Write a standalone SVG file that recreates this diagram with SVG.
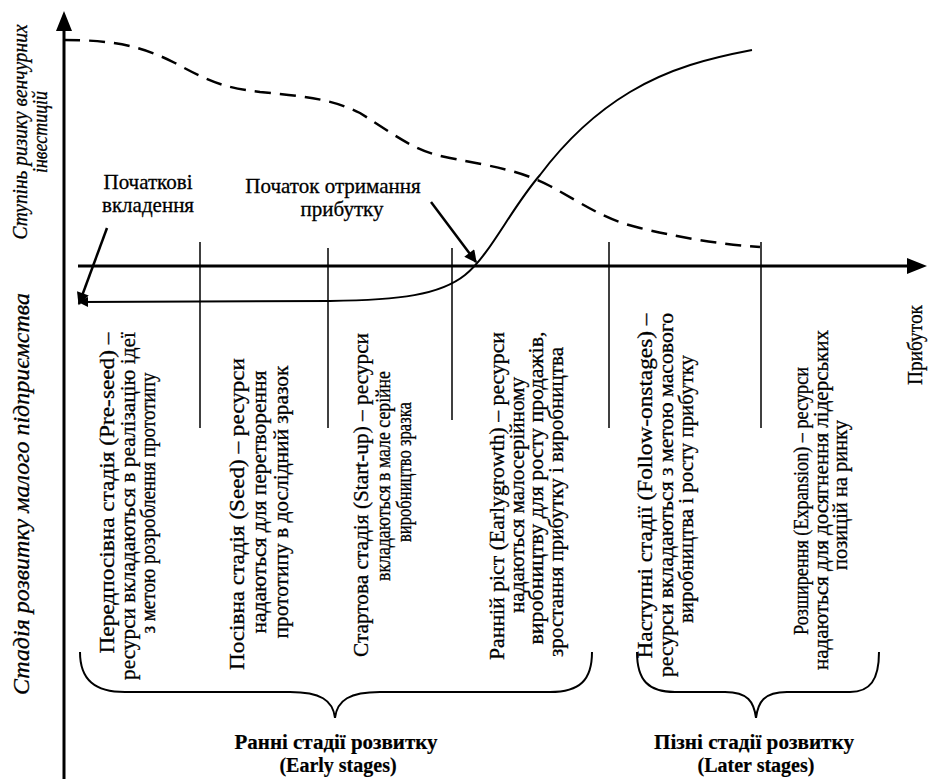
<svg xmlns="http://www.w3.org/2000/svg" width="928" height="779" viewBox="0 0 928 779">
<style>
  text { font-family: "Liberation Serif", "Times New Roman", serif; fill: #000; stroke: #000; stroke-width: 0.3; }
  .col { font-size: 22px; text-anchor: middle; }
  .small { font-size: 20.5px; }
  .axl { font-style: italic; font-size: 20px; text-anchor: middle; }
  .lbl { font-size: 21px; text-anchor: middle; }
  .grp { font-size: 20px; font-weight: bold; text-anchor: middle; stroke-width: 0.2; }
  .div { stroke: #000; stroke-width: 1.5; fill: none; }
  .brace { stroke: #000; stroke-width: 2; fill: none; }
</style>
<defs>
  <marker id="ah" viewBox="0 0 10 10" refX="9" refY="5" markerWidth="6" markerHeight="5" markerUnits="strokeWidth" orient="auto-start-reverse">
    <path d="M0,0 L10,5 L0,10 z" fill="#000"/>
  </marker>
</defs>

<g id="axes">
  <line x1="64" y1="779" x2="64" y2="28" stroke="#000" stroke-width="3"/>
  <path d="M64,11 L72,31 L56,31 z" fill="#000"/>
  <line x1="78" y1="266" x2="910" y2="266" stroke="#000" stroke-width="3"/>
  <path d="M927,266 L907,274 L907,258 z" fill="#000"/>
</g>

<g id="dividers">
  <line class="div" x1="200" y1="242" x2="200" y2="428"/>
  <line class="div" x1="328" y1="248" x2="328" y2="428"/>
  <line class="div" x1="452" y1="248" x2="452" y2="420"/>
  <line class="div" x1="609" y1="242" x2="609" y2="428"/>
  <line class="div" x1="761" y1="242" x2="761" y2="428"/>
</g>

<g id="connectors">
  <path id="risk-curve" d="M64,40 C110,40 140,45 175,63 C210,82 225,88 260,92 C300,96 330,98 360,113 C395,135 415,152 450,158 C490,166 520,170 550,186 C585,205 605,220 640,228 C690,240 730,245 760,247" fill="none" stroke="#000" stroke-width="2.5" stroke-dasharray="16 9"/>
  <path id="profit-curve" d="M752,50 C710,58 670,68 630,92 C600,110 570,135 540,175 C510,210 490,255 465,275 C440,295 400,300 330,301 L79,302" fill="none" stroke="#000" stroke-width="2" marker-end="url(#ah)"/>
  <line id="arrow-initial" x1="107" y1="228" x2="79" y2="304" stroke="#000" stroke-width="2.5" marker-end="url(#ah)"/>
  <line id="arrow-profit" x1="431" y1="202" x2="476" y2="262" stroke="#000" stroke-width="2.5" marker-end="url(#ah)"/>
</g>

<g id="axis-labels">
  <text class="axl" transform="translate(27,132) rotate(-90)" textLength="215" lengthAdjust="spacingAndGlyphs">Ступінь ризику венчурних</text>
  <text class="axl" transform="translate(47,132) rotate(-90)" textLength="82" lengthAdjust="spacingAndGlyphs">інвестицій</text>
  <text class="axl" style="font-size:23.5px" transform="translate(29,494) rotate(-90)" textLength="402" lengthAdjust="spacingAndGlyphs">Стадія розвитку малого підприємства</text>
  <text class="lbl" transform="translate(922,345) rotate(-90)" textLength="80" lengthAdjust="spacingAndGlyphs">Прибуток</text>
</g>

<g id="label-initial">
  <text class="lbl" x="148" y="189">Початкові</text>
  <text class="lbl" x="148" y="212">вкладення</text>
</g>
<g id="label-profit-start">
  <text class="lbl" x="333" y="193">Початок отримання</text>
  <text class="lbl" x="342" y="216">прибутку</text>
</g>

<g id="stage-preseed">
  <text class="col" transform="translate(114,493) rotate(-90)" textLength="321" lengthAdjust="spacingAndGlyphs">Передпосівна стадія (Pre-seed) –</text>
  <text class="col" transform="translate(135,506) rotate(-90)" textLength="348" lengthAdjust="spacingAndGlyphs">ресурси вкладаються в реалізацію ідеї</text>
  <text class="col small" transform="translate(155,503) rotate(-90)" textLength="261" lengthAdjust="spacingAndGlyphs">з метою розроблення прототипу</text>
</g>
<g id="stage-seed">
  <text class="col" transform="translate(244,514) rotate(-90)" textLength="312" lengthAdjust="spacingAndGlyphs">Посівна стадія (Seed) – ресурси</text>
  <text class="col" transform="translate(266,502) rotate(-90)" textLength="263" lengthAdjust="spacingAndGlyphs">надаються для перетворення</text>
  <text class="col" transform="translate(288,502) rotate(-90)" textLength="273" lengthAdjust="spacingAndGlyphs">прототипу в дослідний зразок</text>
</g>
<g id="stage-startup">
  <text class="col" transform="translate(368,495) rotate(-90)" textLength="324" lengthAdjust="spacingAndGlyphs">Стартова стадія (Start-up) – ресурси</text>
  <text class="col small" transform="translate(390,476) rotate(-90)" textLength="210" lengthAdjust="spacingAndGlyphs">вкладаються в мале серійне</text>
  <text class="col small" transform="translate(411,472) rotate(-90)" textLength="140" lengthAdjust="spacingAndGlyphs">виробництво зразка</text>
</g>
<g id="stage-earlygrowth">
  <text class="col" transform="translate(504,496) rotate(-90)" textLength="328" lengthAdjust="spacingAndGlyphs">Ранній ріст (Earlygrowth) – ресурси</text>
  <text class="col" transform="translate(524,495) rotate(-90)" textLength="236" lengthAdjust="spacingAndGlyphs">надаються малосерійному</text>
  <text class="col" transform="translate(543,488) rotate(-90)" textLength="313" lengthAdjust="spacingAndGlyphs">виробництву для росту продажів,</text>
  <text class="col" transform="translate(563,502) rotate(-90)" textLength="310" lengthAdjust="spacingAndGlyphs">зростання прибутку і виробництва</text>
</g>
<g id="stage-followon">
  <text class="col" transform="translate(652,486) rotate(-90)" textLength="345" lengthAdjust="spacingAndGlyphs">Наступні стадії (Follow-onstages) –</text>
  <text class="col" transform="translate(673,495) rotate(-90)" textLength="364" lengthAdjust="spacingAndGlyphs">ресурси вкладаються з метою масового</text>
  <text class="col" transform="translate(693,489) rotate(-90)" textLength="268" lengthAdjust="spacingAndGlyphs">виробництва і росту прибутку</text>
</g>
<g id="stage-expansion">
  <text class="col small" transform="translate(808,501) rotate(-90)" textLength="268" lengthAdjust="spacingAndGlyphs">Розширення (Expansion) – ресурси</text>
  <text class="col" transform="translate(828,500) rotate(-90)" textLength="340" lengthAdjust="spacingAndGlyphs">надаються для досягнення лідерських</text>
  <text class="col" transform="translate(847,495) rotate(-90)" textLength="150" lengthAdjust="spacingAndGlyphs">позицій на ринку</text>
</g>

<g id="group-early">
  <path class="brace" d="M80,652 C80,680 95,692 125,692 L290,692 C320,692 333,700 335,718 C337,700 350,692 380,692 L550,692 C580,692 592,680 592,652"/>
  <text class="grp" x="336" y="749" textLength="203" lengthAdjust="spacingAndGlyphs">Ранні стадії розвитку</text>
  <text class="grp" x="338" y="772">(Early stages)</text>
</g>
<g id="group-later">
  <path class="brace" d="M637,652 C637,680 648,692 675,692 L725,692 C748,692 754,702 756,718 C758,702 764,692 787,692 L850,692 C870,692 879,680 879,652"/>
  <text class="grp" x="754" y="749" textLength="200" lengthAdjust="spacingAndGlyphs">Пізні стадії розвитку</text>
  <text class="grp" x="756" y="772">(Later stages)</text>
</g>
</svg>
